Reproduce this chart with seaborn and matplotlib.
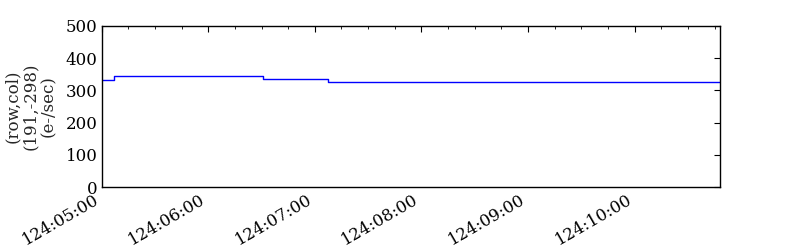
import matplotlib
matplotlib.use("Agg")
import matplotlib.pyplot as plt
import matplotlib.dates as mdates
import seaborn as sns
import pandas as pd
import numpy as np

# data: step changes (time of change, value in e-/sec)
times = ["2024-05-03 04:59:20", "2024-05-03 05:06:50", "2024-05-03 06:31:00",
         "2024-05-03 07:07:30", "2024-05-03 10:48:00"]
values = [331, 344, 334, 326, 326]
ylabel_lines = ["(row,col)", "(191,-298)", "(e-/sec)"]

sns.set_style("white")
plt.rcParams['font.family'] = ['DejaVu Serif']
plt.rcParams['font.size'] = 12

df = pd.DataFrame({"t": pd.to_datetime(times), "v": values})

fig = plt.figure(figsize=(8, 2.5), dpi=100)
ax = fig.add_axes([0.127, 0.251, 0.773, 0.646])
sns.lineplot(data=df, x="t", y="v", ax=ax, color="#0000ff", linewidth=1.0,
             drawstyle="steps-post")

ax.set_xlim(df["t"].iloc[0] + pd.Timedelta(seconds=40), df["t"].iloc[-1])
ax.set_ylim(0, 500)
ax.set_yticks([0, 100, 200, 300, 400, 500])
ax.xaxis.set_major_locator(mdates.HourLocator())
ax.xaxis.set_minor_locator(mdates.MinuteLocator(byminute=[15, 30, 45]))
ax.xaxis.set_major_formatter(mdates.DateFormatter("%j:%H:%M"))
ax.set_xlabel("")
ax.set_ylabel("\n".join(ylabel_lines), fontsize=12, linespacing=1.1, labelpad=6)

for s in ax.spines.values():
    s.set_visible(True)
    s.set_color("black")
    s.set_linewidth(1.0)
ax.tick_params(which="both", direction="in", top=True, right=True, colors="black")
ax.tick_params(which="major", length=4, width=0.8, labelsize=12, pad=3)
ax.tick_params(which="minor", length=2, width=0.6)
for lbl in ax.get_xticklabels():
    lbl.set_rotation(30)
    lbl.set_ha("right")

fig.savefig("out.png", dpi=100)
